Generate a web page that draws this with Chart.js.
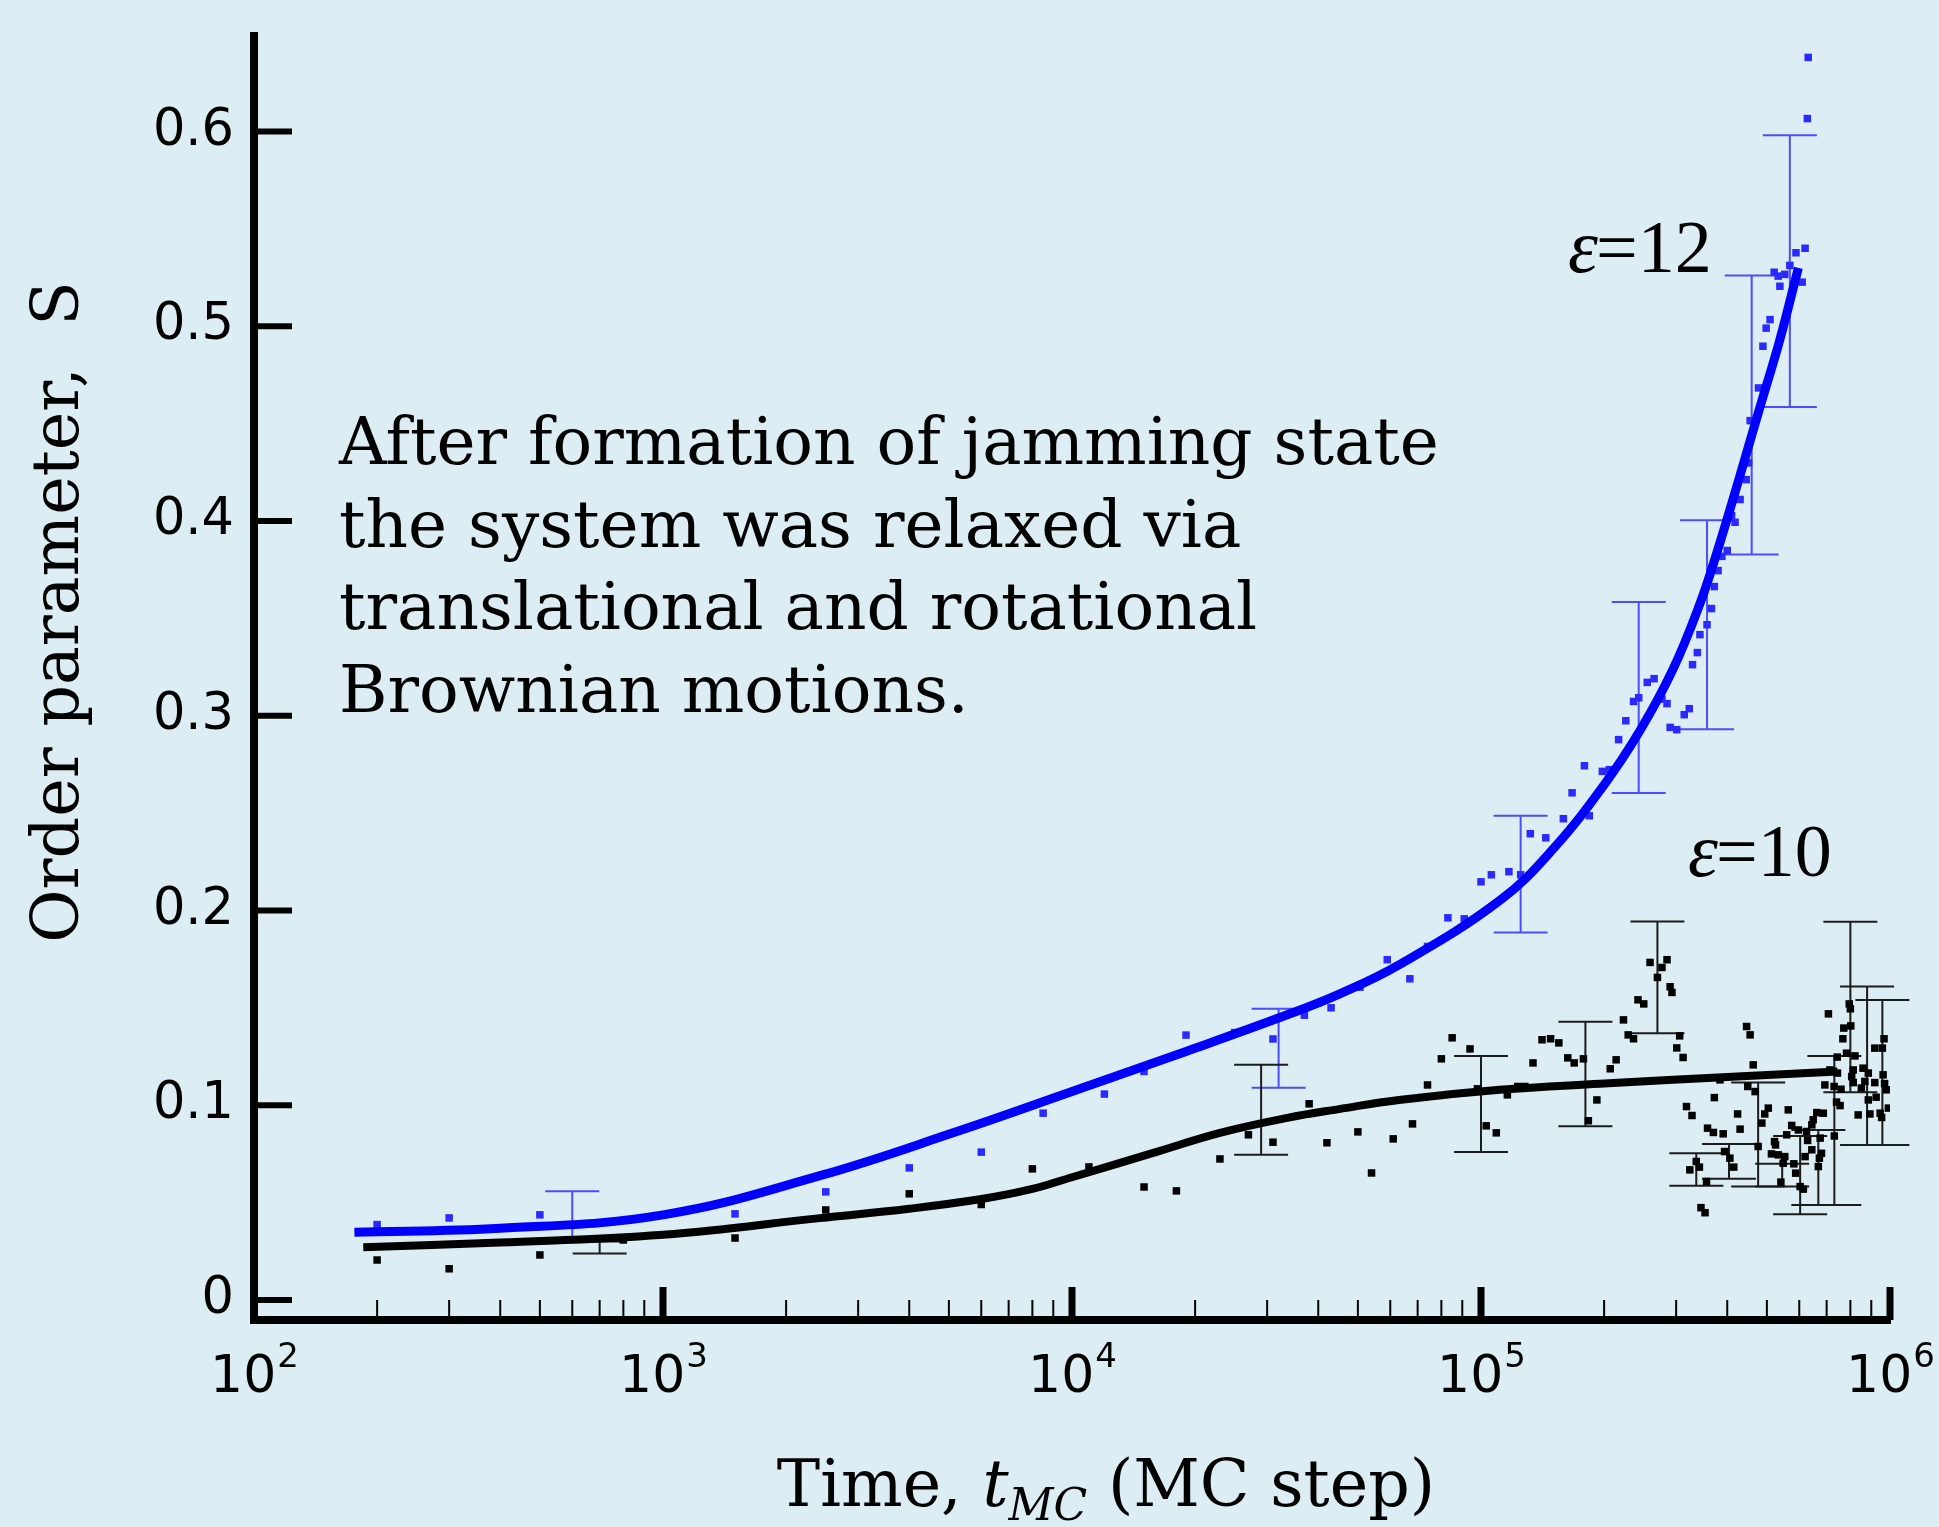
<!DOCTYPE html>
<html>
<head>
<meta charset="utf-8">
<title>Order parameter vs time</title>
<script src="https://cdn.jsdelivr.net/npm/chart.js@4.4.1/dist/chart.umd.min.js"></script>
<style>
  html, body { margin: 0; padding: 0; background: #dcedf3; }
  #wrap { width: 1939px; height: 1527px; }
</style>
</head>
<body>
<div id="wrap"><canvas id="mychart" width="1939" height="1527"></canvas></div>
<script>
// ---- data ----
// eps = 12, simulation points
var blueT = [200, 300, 500, 1500, 2500, 4000, 6000, 8500, 12000, 15000, 19000, 25000, 31000, 37000, 43000,
  50600, 59000, 67000, 74000, 83000, 91000, 100000, 106000, 117000, 125000, 132000, 144000, 159000, 167000,
  179000, 184000, 198000, 206000, 217000, 226000, 236000, 243000, 255000, 265000, 277000, 285000, 290000,
  301000, 314000, 323000, 329000, 338000, 343000, 357000, 366000, 372000, 380000, 388000, 400000, 410000,
  418000, 430000, 445000, 451000, 455000, 477000, 489000, 498000, 509000, 521000, 533000, 538000, 553000,
  569000, 589000, 610000, 620000, 628000, 631000];
var blueS = [0.0387, 0.0421, 0.0437, 0.0442, 0.0555, 0.0678, 0.0759, 0.0959, 0.1057, 0.1173, 0.136, 0.1373, 0.134, 0.1462, 0.150,
  0.1606, 0.1747, 0.1649, 0.1815, 0.1962, 0.1957, 0.2147, 0.2183, 0.2199, 0.2183, 0.2394, 0.2373, 0.2471, 0.2604,
  0.2743, 0.2486, 0.2714, 0.2723, 0.2877, 0.2974, 0.3073, 0.3092, 0.3171, 0.319, 0.3085, 0.3062, 0.294,
  0.2928, 0.3005, 0.3036, 0.3262, 0.3324, 0.3416, 0.3467, 0.355, 0.3663, 0.3745, 0.3818, 0.3848, 0.4027,
  0.3993, 0.411, 0.4212, 0.4298, 0.4515, 0.4683, 0.4897, 0.499, 0.5034, 0.5277, 0.5257, 0.5205, 0.5266,
  0.5312, 0.5377, 0.5226, 0.540, 0.6066, 0.638];

// eps = 10, simulation points
var blackT = [200, 300, 500, 800, 1500, 2500, 4000, 6000, 8000, 11000, 15000, 18000, 23000, 27000, 31000,
  38000, 42000, 50000, 54000, 61000, 68000, 74000, 80000, 85000, 94000, 98000, 103000, 109000, 116000,
  123000, 128000, 134000, 141000, 148000, 155000, 163000, 169000, 178000, 183000, 192000, 207000, 214000,
  223000, 229000, 236000, 242000, 250000, 259000, 270000, 277000, 285000, 290000, 293000, 301000, 306000,
  312000, 318000, 324000, 328000, 336000, 342000, 345000, 353000, 356000, 358000, 370000, 372000, 384000,
  391000, 394000, 406000, 415000, 424000, 430000, 446000, 449000, 455000, 463000, 468000, 476000, 486000,
  494000, 504000, 513000, 522000, 525000, 533000, 541000, 548000, 553000, 559000, 564000, 575000, 582000,
  588000, 597000, 603000, 614000, 620000, 625000, 629000, 644000, 644000, 649000, 662000, 668000, 672000,
  675000, 680000, 687000, 693000, 707000, 713000, 730000, 731000, 740000, 743000, 744000, 755000, 759000,
  767000, 771000, 783000, 795000, 800000, 802000, 806000, 813000, 813000, 821000, 836000, 851000, 859000,
  868000, 885000, 885000, 893000, 918000, 918000, 925000, 946000, 954000, 958000, 962000, 967000, 970000,
  981000, 991000];
var blackS = [0.0205, 0.016, 0.0231, 0.0308, 0.0318, 0.0462, 0.0545, 0.049, 0.0673, 0.0683, 0.058, 0.056, 0.0724, 0.0848, 0.081,
  0.1007, 0.0807, 0.0863, 0.0652, 0.0827, 0.0904, 0.1104, 0.1238, 0.1346, 0.1289, 0.1084, 0.0894, 0.0858, 0.1053,
  0.1096, 0.1096, 0.1217, 0.1336, 0.1341, 0.132, 0.1243, 0.1217, 0.1238, 0.092, 0.1027, 0.1187, 0.1233,
  0.1438, 0.1361, 0.1341, 0.1541, 0.152, 0.1733, 0.1656, 0.1707, 0.1747, 0.1608, 0.1579, 0.1294, 0.1356,
  0.1245, 0.0993, 0.0668, 0.0947, 0.0711, 0.0682, 0.0474, 0.0448, 0.0608, 0.0882, 0.086, 0.1039, 0.113,
  0.0853, 0.0762, 0.0728, 0.0682, 0.0955, 0.0877, 0.1404, 0.1096, 0.1361, 0.1207, 0.107, 0.0788, 0.0908,
  0.0955, 0.0985, 0.075, 0.0813, 0.0796, 0.0745, 0.0605, 0.0702, 0.0736, 0.0848, 0.0976, 0.0896, 0.0699,
  0.0651, 0.0873, 0.0582, 0.0569, 0.0736, 0.0865, 0.0819, 0.0899, 0.0771, 0.0925, 0.0962, 0.0685, 0.0728,
  0.0831, 0.0753, 0.0959, 0.1104, 0.1469, 0.1181, 0.1096, 0.0842, 0.1016, 0.1247, 0.1165, 0.0998, 0.1082,
  0.1341, 0.1396, 0.1267, 0.152, 0.1495, 0.1407, 0.1147, 0.1181, 0.1116, 0.1253, 0.095, 0.1088, 0.119,
  0.1122, 0.1165, 0.1027, 0.0955, 0.1116, 0.1293, 0.1041, 0.0959, 0.0937, 0.1293, 0.1156, 0.1341, 0.1111,
  0.1079, 0.0985];

// fitted curves
var blueFitT = [176, 400, 1000, 2420, 5120, 10000, 19000, 33600, 45000, 63000, 111000, 150000, 200000,
  245000, 295000, 343000, 377000, 430000, 481000, 538000, 597000];
var blueFitS = [0.0348, 0.0368, 0.0437, 0.0638, 0.0858, 0.107, 0.1276, 0.1464, 0.157, 0.172, 0.205, 0.2315, 0.2645,
  0.2925, 0.324, 0.3575, 0.3835, 0.4235, 0.4585, 0.4931, 0.530];
var blackFitT = [185, 400, 1000, 2420, 4000, 6000, 8000, 10000, 15800, 23000, 33600, 45000, 63000, 111000,
  195000, 400000, 744000];
var blackFitS = [0.0271, 0.0295, 0.0335, 0.042, 0.0468, 0.0518, 0.057, 0.063, 0.0755, 0.0858, 0.0935, 0.098, 0.1027, 0.1079,
  0.111, 0.1145, 0.1173];

// error bars
var blueErrT  = [600, 32000, 125000, 243000, 357000, 459000, 569000];
var blueErrLo = [0.030, 0.109, 0.1887, 0.2603, 0.293, 0.3827, 0.4585];
var blueErrHi = [0.0558, 0.1495, 0.2486, 0.3584, 0.4003, 0.526, 0.598];
var blackErrT  = [700, 29000, 100000, 180000, 270000, 336000, 404000, 476000, 545000, 603000, 668000, 731000, 800000, 879000, 958000];
var blackErrLo = [0.0238, 0.0745, 0.0759, 0.0892, 0.137, 0.0586, 0.0622, 0.0582, 0.0582, 0.044, 0.0488, 0.0488, 0.1067, 0.0796, 0.0796];
var blackErrHi = [0.030, 0.1207, 0.1253, 0.1428, 0.1943, 0.0753, 0.0801, 0.1116, 0.0699, 0.0842, 0.0873, 0.1253, 0.1942, 0.161, 0.154];

// axes
var yTickValues = [0, 0.1, 0.2, 0.3, 0.4, 0.5, 0.6];
var yTickLabels = ['0', '0.1', '0.2', '0.3', '0.4', '0.5', '0.6'];
var xTickExps = [2, 3, 4, 5, 6];

var noteLines = ['After formation of jamming state', 'the system was relaxed via',
  'translational and rotational', 'Brownian motions.'];

function pairs(xs, ys) {
  var out = [];
  for (var i = 0; i < xs.length; i++) out.push({x: xs[i], y: ys[i]});
  return out;
}

var SERIF = '"DejaVu Serif", serif';
var SANS = '"DejaVu Sans", sans-serif';

function drawErrorBars(chart, ts, lo, hi, color) {
  var xs = chart.scales.x, ys = chart.scales.y, ctx = chart.ctx;
  ctx.save();
  ctx.strokeStyle = color;
  ctx.lineWidth = 2;
  for (var i = 0; i < ts.length; i++) {
    var x = xs.getPixelForValue(ts[i]);
    var y1 = ys.getPixelForValue(lo[i]);
    var y2 = ys.getPixelForValue(hi[i]);
    ctx.beginPath();
    ctx.moveTo(x, y1); ctx.lineTo(x, y2);
    ctx.moveTo(x - 27, y1); ctx.lineTo(x + 27, y1);
    ctx.moveTo(x - 27, y2); ctx.lineTo(x + 27, y2);
    ctx.stroke();
  }
  ctx.restore();
}

var decor = {
  id: 'decor',
  beforeDraw: function(chart) {
    var ctx = chart.ctx;
    ctx.save();
    ctx.fillStyle = '#dcedf3';
    ctx.fillRect(0, 0, chart.width, chart.height);
    ctx.restore();
  },
  beforeDatasetsDraw: function(chart) {
    drawErrorBars(chart, blueErrT, blueErrLo, blueErrHi, 'rgba(60,60,255,0.9)');
    drawErrorBars(chart, blackErrT, blackErrLo, blackErrHi, '#1c1c1c');
  },
  afterDraw: function(chart) {
    var ctx = chart.ctx, xs = chart.scales.x, ys = chart.scales.y;
    var area = chart.chartArea;
    ctx.save();
    ctx.strokeStyle = '#000';
    ctx.fillStyle = '#000';

    // inward y ticks
    ctx.lineWidth = 6;
    yTickValues.forEach(function(v) {
      var y = ys.getPixelForValue(v);
      ctx.beginPath();
      ctx.moveTo(area.left, y);
      ctx.lineTo(area.left + 38, y);
      ctx.stroke();
    });

    // inward x ticks, majors and minors
    for (var e = xTickExps[0]; e <= xTickExps[xTickExps.length - 1]; e++) {
      var px = xs.getPixelForValue(Math.pow(10, e));
      ctx.lineWidth = 7;
      ctx.beginPath();
      ctx.moveTo(px, area.bottom);
      ctx.lineTo(px, area.bottom - 33);
      ctx.stroke();
      if (e === xTickExps[xTickExps.length - 1]) break;
      ctx.lineWidth = 2;
      for (var m = 2; m <= 9; m++) {
        var mx = xs.getPixelForValue(m * Math.pow(10, e));
        ctx.beginPath();
        ctx.moveTo(mx, area.bottom);
        ctx.lineTo(mx, area.bottom - 20);
        ctx.stroke();
      }
    }

    // x tick labels 10^n
    ctx.textBaseline = 'alphabetic';
    ctx.textAlign = 'left';
    xTickExps.forEach(function(e) {
      var px = xs.getPixelForValue(Math.pow(10, e));
      ctx.font = '52px ' + SANS;
      var wb = ctx.measureText('10').width;
      ctx.font = '34px ' + SANS;
      var ws = ctx.measureText(String(e)).width;
      var x0 = px - (wb + ws) / 2;
      ctx.font = '52px ' + SANS;
      ctx.fillText('10', x0, 1392);
      ctx.font = '34px ' + SANS;
      ctx.fillText(String(e), x0 + wb + 1, 1367);
    });

    // y axis title
    ctx.save();
    ctx.translate(78, 612);
    ctx.rotate(-Math.PI / 2);
    ctx.textAlign = 'center';
    ctx.font = '65px ' + SERIF;
    ctx.fillText('Order parameter,  S', 0, 0);
    ctx.restore();

    // x axis title with italic t and subscript MC
    var partA = 'Time, ', partB = 't', partC = 'MC', partD = ' (MC step)';
    ctx.font = '65px ' + SERIF; var wA = ctx.measureText(partA).width; var wD = ctx.measureText(partD).width;
    ctx.font = 'italic 65px ' + SERIF; var wB = ctx.measureText(partB).width;
    ctx.font = 'italic 44px ' + SERIF; var wC = ctx.measureText(partC).width;
    var tx = 1106 - (wA + wB + wC + wD) / 2;
    ctx.font = '65px ' + SERIF; ctx.fillText(partA, tx, 1506); tx += wA;
    ctx.font = 'italic 65px ' + SERIF; ctx.fillText(partB, tx, 1506); tx += wB;
    ctx.font = 'italic 44px ' + SERIF; ctx.fillText(partC, tx, 1520); tx += wC;
    ctx.font = '65px ' + SERIF; ctx.fillText(partD, tx, 1506);

    // annotation
    ctx.font = '66px ' + SERIF;
    noteLines.forEach(function(line, i) {
      ctx.fillText(line, 339, 464 + i * 82.7);
    });

    // series labels
    function epsLabel(txt, x, y) {
      ctx.font = 'italic 76px "Liberation Serif", serif';
      ctx.fillText('\u03b5', x, y);
      var w = ctx.measureText('\u03b5').width;
      ctx.font = '74px "Liberation Serif", serif';
      ctx.fillText('=' + txt, x + w - 2, y);
    }
    epsLabel('12', 1568, 272);
    epsLabel('10', 1688, 876);

    ctx.restore();
  }
};

var ctx = document.getElementById('mychart');

var chart = new Chart(ctx, {
  type: 'scatter',
  data: {
    datasets: [
      {
        label: 'fit eps=12',
        data: pairs(blueFitT, blueFitS),
        showLine: true,
        borderColor: '#0000ff',
        borderWidth: 9,
        pointRadius: 0,
        tension: 0.4,
        order: 0
      },
      {
        label: 'fit eps=10',
        data: pairs(blackFitT, blackFitS),
        showLine: true,
        borderColor: '#000000',
        borderWidth: 8,
        pointRadius: 0,
        tension: 0.4,
        order: 1
      },
      {
        label: 'eps=12',
        data: pairs(blueT, blueS),
        pointStyle: 'rect',
        pointRadius: 5.3,
        borderWidth: 0,
        backgroundColor: '#2a2aff',
        order: 2
      },
      {
        label: 'eps=10',
        data: pairs(blackT, blackS),
        pointStyle: 'rect',
        pointRadius: 5.3,
        borderWidth: 0,
        backgroundColor: '#000000',
        order: 3
      }
    ]
  },
  options: {
    responsive: false,
    animation: false,
    devicePixelRatio: 1,
    layout: { padding: { top: 36, right: 49, left: 0, bottom: 0 } },
    plugins: { legend: { display: false }, tooltip: { enabled: false } },
    scales: {
      x: {
        type: 'logarithmic',
        min: 100,
        max: 1000000,
        position: 'bottom',
        ticks: { display: false },
        grid: { display: false, drawTicks: false },
        border: { display: true, width: 8, color: '#000' },
        afterFit: function(s) { s.height = 207; s.paddingLeft = 0; s.paddingRight = 0; }
      },
      y: {
        type: 'linear',
        min: -0.0103,
        max: 0.649,
        position: 'left',
        afterBuildTicks: function(s) {
          s.ticks = yTickValues.map(function(v) { return {value: v}; });
        },
        ticks: {
          font: { family: 'DejaVu Sans', size: 51 },
          color: '#000',
          padding: 20,
          callback: function(v, i) { return yTickLabels[i]; }
        },
        grid: { display: false, drawTicks: false },
        border: { display: true, width: 8, color: '#000' },
        afterFit: function(s) { s.width = 254; s.paddingTop = 0; s.paddingBottom = 0; }
      }
    }
  },
  plugins: [decor]
});
</script>
</body>
</html>
